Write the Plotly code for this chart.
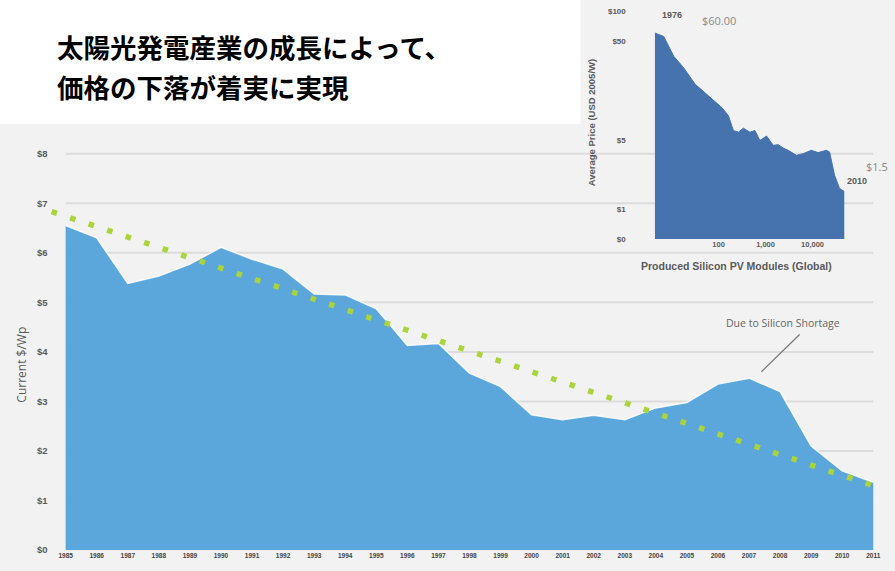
import plotly.graph_objects as go

W, H = 895, 571

# ---- main series: module price, current $/Wp ----
YEARS = list(range(1985, 2012))
PRICE = [6.55, 6.30, 5.38, 5.53, 5.77, 6.11, 5.87, 5.67, 5.17, 5.15,
         4.87, 4.13, 4.17, 3.57, 3.30, 2.73, 2.63, 2.72, 2.63, 2.87,
         2.98, 3.35, 3.47, 3.20, 2.10, 1.60, 1.37]

# dotted trend line (end points)
TREND_YEARS = [1984.55, 2011.0]
TREND_VALUES = [6.83, 1.30]

Y_TICKS = list(range(0, 9))
Y_TICK_TEXT = [f"${v}" for v in Y_TICKS]
GRID_LEVELS = list(range(1, 9))

# ---- inset: learning curve vs cumulative production (log/log) ----
INSET_VOLUME = [4.39, 6.8, 11.1, 18.0, 31.8, 61.1, 117, 162, 207, 264,
                337, 465, 593, 757, 1050, 1456, 1858, 2372, 3027, 4539,
                6295, 9441, 13090, 19600, 23000, 29400, 37500, 47900]
INSET_PRICE = [60.0, 55.3, 34.9, 26.7, 18.2, 13.9, 10.6, 8.77, 6.21, 5.98,
               6.56, 5.98, 6.21, 4.93, 5.46, 4.40, 4.47, 4.14, 3.92, 3.49,
               3.63, 3.92, 3.72, 3.92, 3.78, 2.20, 1.62, 1.50]
INSET_FLOOR = 0.5
INSET_Y_TICKS = [0.5, 1, 5, 50, 100]
INSET_Y_TEXT = ["$0", "$1", "$5", "$50", "$100"]
INSET_X_TICKS = [100, 1000, 10000]
INSET_X_TEXT = ["100", "1,000", "10,000"]

TITLE_LINES = ["太陽光発電産業の成長によって、", "価格の下落が着実に実現"]


def px(x):
    return x / W


def py(y):
    return 1 - y / H


fig = go.Figure()

# main area
fig.add_trace(go.Scatter(
    x=YEARS, y=PRICE, mode="lines", fill="tozeroy",
    fillcolor="#5ba6db", line=dict(color="rgba(255,255,255,0.85)", width=1.5),
    hoverinfo="skip", xaxis="x", yaxis="y"))

# trend
fig.add_trace(go.Scatter(
    x=TREND_YEARS, y=TREND_VALUES, mode="lines",
    line=dict(color="#a9d43c", width=5.5, dash="5.5px,14px"),
    hoverinfo="skip", xaxis="x", yaxis="y"))

# inset area
fig.add_trace(go.Scatter(
    x=[INSET_VOLUME[0], INSET_VOLUME[-1]], y=[INSET_FLOOR, INSET_FLOOR],
    mode="lines", line=dict(width=0), hoverinfo="skip",
    xaxis="x2", yaxis="y2"))
fig.add_trace(go.Scatter(
    x=INSET_VOLUME, y=INSET_PRICE, mode="lines", fill="tonexty",
    fillcolor="#4673ad", line=dict(color="#4673ad", width=1),
    hoverinfo="skip", xaxis="x2", yaxis="y2"))

# white title panel and horizontal grid lines across the main plot
shapes = [
    dict(type="rect", xref="paper", yref="paper", x0=0, x1=px(583),
         y0=py(125), y1=1, fillcolor="white", line=dict(width=0),
         layer="below"),
]
for lvl in GRID_LEVELS:
    shapes.append(dict(type="line", xref="x", yref="y", x0=YEARS[0],
                       x1=YEARS[-1], y0=lvl, y1=lvl,
                       line=dict(color="#dcdcdc", width=2), layer="below"))
# leader line of the note
shapes.append(dict(type="line", xref="x", yref="y", x0=2007.4, y0=3.6,
                   x1=2008.63, y1=4.35, line=dict(color="#7a7a7a", width=1.3)))

gray = "#5a5a5a"


def label(text, x, y, size, color=gray, family="Liberation Sans",
          weight="bold", angle=0, xanchor="center"):
    return dict(text=text, xref="paper", yref="paper", x=px(x), y=py(y),
                xanchor=xanchor, yanchor="middle", showarrow=False,
                textangle=angle, borderpad=0,
                font=dict(family=family, size=size, color=color,
                          weight=weight))


annotations = [
    label(TITLE_LINES[0], 56, 46.5, 26.5, color="black",
          family="Noto Sans CJK JP", xanchor="left"),
    label(TITLE_LINES[1], 56, 87, 26.5, color="black",
          family="Noto Sans CJK JP", xanchor="left"),
    label("Current $/Wp", 22, 368, 12, family="Open Sans", weight="normal",
          angle=-90),
    dict(text="Due to Silicon Shortage", xref="x", yref="y", x=2008.1, y=4.58,
         showarrow=False, xanchor="center", yanchor="middle",
         font=dict(family="Open Sans", size=10.5, color="#666666")),
    # inset labels
    label("Average Price (USD 2005/W)", 595, 124, 9.5, angle=-90),
    label("Produced Silicon PV Modules (Global)", 740, 268, 10.5),
    label("1976", 675, 15, 9),
    label("$60.00", 722, 21, 11, color="#8a8a8a", family="Open Sans",
          weight="normal"),
    label("$1.5", 869, 168, 11, color="#8a8a8a", family="Open Sans",
          weight="normal", xanchor="left"),
    label("2010", 861, 183, 9),
]

fig.update_layout(
    width=W, height=H, margin=dict(l=0, r=0, t=0, b=0),
    paper_bgcolor="#f2f2f2", plot_bgcolor="rgba(0,0,0,0)",
    showlegend=False, shapes=shapes, annotations=annotations,
    xaxis=dict(domain=[px(48.8), px(880.3)], range=[1984.45, 2011.1],
               tickmode="array", tickvals=YEARS,
               ticktext=[str(y) for y in YEARS],
               showgrid=False, zeroline=False, showline=False, ticks="",
               tickangle=0,
               tickfont=dict(family="Liberation Sans", size=6.5,
                             color="#444444", weight="bold")),
    yaxis=dict(domain=[py(555), py(135)], range=[0, 8.4],
               tickmode="array", tickvals=Y_TICKS, ticktext=Y_TICK_TEXT,
               showgrid=False, zeroline=False, showline=False, ticks="",
               tickfont=dict(family="Liberation Sans", size=9.5, color=gray,
                             weight="bold")),
    xaxis2=dict(domain=[px(657.7), px(848.3)], type="log",
                range=[0.642, 4.68], anchor="y2",
                tickmode="array", tickvals=INSET_X_TICKS,
                ticktext=INSET_X_TEXT,
                showgrid=False, zeroline=False, showline=False, ticks="",
                tickfont=dict(family="Liberation Sans", size=7.5, color=gray,
                              weight="bold")),
    yaxis2=dict(domain=[py(241.1), py(6)], type="log",
                range=[-0.30103, 2.05], anchor="x2",
                tickmode="array", tickvals=INSET_Y_TICKS,
                ticktext=INSET_Y_TEXT, ticklabelstandoff=28,
                showgrid=False, zeroline=False, showline=False, ticks="",
                tickfont=dict(family="Liberation Sans", size=8, color=gray,
                              weight="bold")),
)

fig.write_html("out.html")
